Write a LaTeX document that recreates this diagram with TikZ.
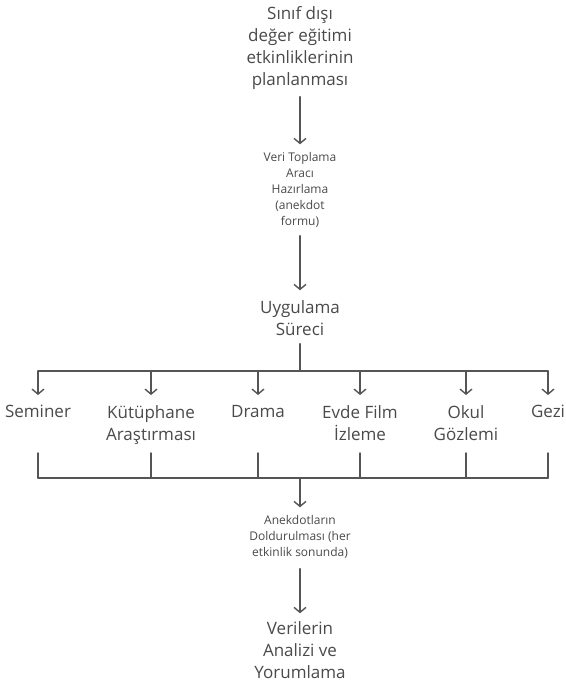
\documentclass[tikz,border=0pt]{standalone}
\usepackage{fontspec}
\setmainfont{Open Sans}
\usetikzlibrary{arrows.meta}
\definecolor{ink}{HTML}{4A4A4A}
\definecolor{wire}{HTML}{555555}
\tikzset{
  big/.style={align=center, inner sep=0pt, text=ink, font=\fontsize{17}{22}\selectfont},
  small/.style={align=center, inner sep=0pt, text=ink, font=\fontsize{12}{16}\selectfont},
  child/.style={big, anchor=north},
  wireline/.style={draw=wire, line width=1.4pt, line cap=round, line join=round},
  arr/.style={wireline, -{Straight Barb[length=5pt,width=12pt,line width=1.4pt]}}
}
\begin{document}
\begin{tikzpicture}[x=1pt,y=-1pt]
\useasboundingbox[fill=white] (0,0) rectangle (565,684);
\node[big] (plan) at (300,48) {Sınıf dışı\\değer eğitimi\\etkinliklerinin\\planlanması};
\node[small] (veri) at (300,190) {Veri Toplama\\Aracı\\Hazırlama\\(anekdot\\formu)};
\node[big] (uyg) at (300,318) {Uygulama\\Süreci};
\node[child] (sem) at (38,405) {Seminer};
\node[child] (kut) at (151,405) {Kütüphane\\Araştırması};
\node[child] (dra) at (258,405) {Drama};
\node[child] (evd) at (360,405) {Evde Film\\İzleme};
\node[child] (oku) at (466,405) {Okul\\Gözlemi};
\node[child] (gez) at (548,405) {Gezi};
\node[small] (anek) at (300,537) {Anekdotların\\Doldurulması (her\\etkinlik sonunda)};
\node[big] (ver) at (300,650) {Verilerin\\Analizi ve\\Yorumlama};
\coordinate (topbus) at (300,371);
\coordinate (botbus) at (300,478);
\coordinate (lowtop) at (300,453);
\coordinate (arrend) at (300,395);
\draw[arr] (plan.south) ++(0,7) -- ([yshift=8pt]veri.north);
\draw[arr] (veri.south) ++(0,8) -- ([yshift=10pt]uyg.north);
\draw[wireline] ([yshift=-8pt]uyg.south) -- (topbus);
\draw[wireline] (sem |- topbus) -- (gez |- topbus);
\foreach \n in {sem,kut,dra,evd,oku,gez}{
  \draw[arr] (\n |- topbus) -- (\n |- arrend);
  \draw[wireline] (\n |- lowtop) -- (\n |- botbus);
}
\draw[wireline] (sem |- botbus) -- (gez |- botbus);
\draw[arr] (botbus) -- ([yshift=8pt]anek.north);
\draw[arr] ([yshift=-10pt]anek.south) -- ([yshift=8pt]ver.north);
\end{tikzpicture}
\end{document}
